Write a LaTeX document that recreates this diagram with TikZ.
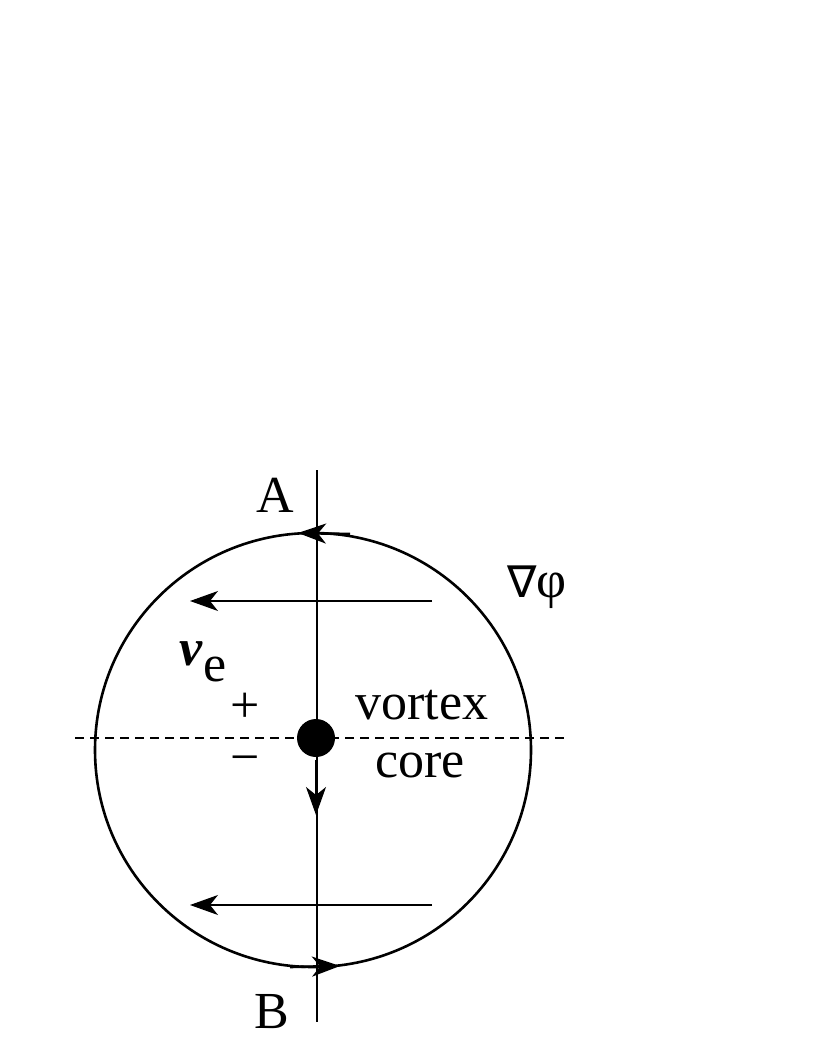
\documentclass[tikz,border=0pt]{standalone}
\usepackage{fontspec}
\setmainfont{Liberation Serif}
\newfontfamily\dvfont{DejaVu Sans}
\usetikzlibrary{arrows.meta,shapes.geometric}
\begin{document}
\begin{tikzpicture}[x=1pt,y=-1pt,
  thin line/.style={line width=1.2pt},
  arr/.style={thin line,-{Stealth[length=28pt,width=20pt,inset=8pt]}},
  lbl/.style={font=\fontsize{52}{52}\selectfont,inner sep=0pt}]
\useasboundingbox (0,0) rectangle (822,1064);
\node[draw,line width=2.6pt,ellipse,minimum width=436pt,minimum height=434pt,inner sep=0pt] (circ) at (313,750) {};
\coordinate (vt) at (317,470); \coordinate (vb) at (317,1022);
\draw[thin line] (vt) -- (vb);
\coordinate (hl) at (75,738); \coordinate (hr) at (568,738);
\draw[thin line,dashed,dash pattern=on 9pt off 6pt] (hl) -- (hr);
\coordinate (a1s) at (432,601); \coordinate (a1e) at (190,601);
\draw[arr] (a1s) -- (a1e);
\coordinate (a2s) at (432,905); \coordinate (a2e) at (190,905);
\draw[arr] (a2s) -- (a2e);
\node[circle,fill=black,minimum size=38pt,inner sep=0pt] (dot) at (316,738) {};
\coordinate (ds) at (316,760); \coordinate (de) at (316,815);
\draw[arr] (ds) -- (de);
\coordinate (ta) at (350,534); \coordinate (tb) at (298,533);
\draw[arr,line width=2.6pt] (ta) -- (tb);
\coordinate (ba) at (290,967); \coordinate (bb) at (340,966);
\draw[arr,line width=2.6pt] (ba) -- (bb);
\node[lbl] (A) at (275,495) {A};
\node[lbl] (B) at (272,1012) {B};
\node[lbl] (grad) at (537,587) {{\dvfont\fontsize{44}{44}\selectfont ∇}φ};
\node[lbl] (ve) at (203,662) {\textit{\textbf{v}}\raisebox{-16pt}{e}};
\node[lbl] (plus) at (245,708) {+};
\node[lbl] (minus) at (245,765) {\textminus};
\node[lbl] (vortex) at (422,705) {vortex};
\node[lbl] (core) at (420,765) {core};
\end{tikzpicture}
\end{document}
